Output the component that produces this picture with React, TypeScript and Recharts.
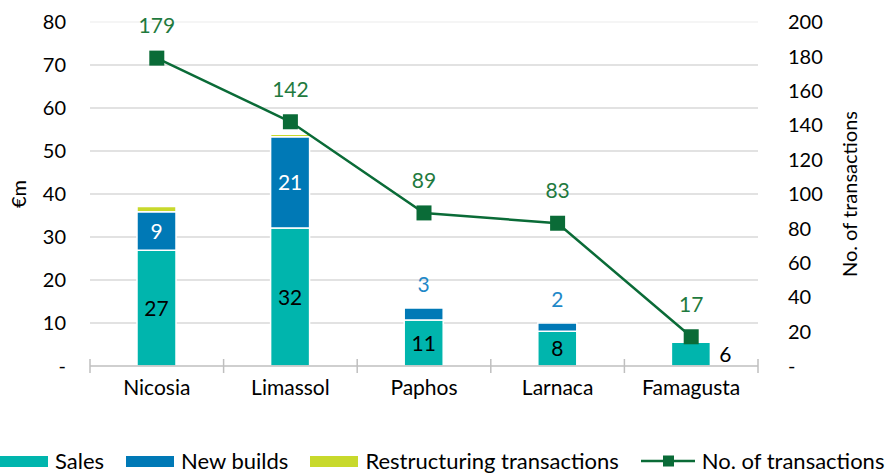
import React from 'react';
import {
  ComposedChart,
  Bar,
  Line,
  XAxis,
  YAxis,
  CartesianGrid,
  LabelList,
  Label,
} from 'recharts';

const districts = ['Nicosia', 'Limassol', 'Paphos', 'Larnaca', 'Famagusta'];
const sales = [26.9, 32.1, 10.7, 8.1, 5.5];
const newBuilds = [9.0, 21.2, 2.8, 1.9, 0];
const restructuring = [1.2, 0.6, 0, 0, 0];
const transactions = [179, 142, 89, 83, 17];

const leftTicks = [0, 10, 20, 30, 40, 50, 60, 70, 80];
const rightTicks = [0, 20, 40, 60, 80, 100, 120, 140, 160, 180, 200];

const W = 887;
const H = 473;
const LEFT_W = 90;
const RIGHT_W = 129;
const TOP = 22;
const PLOT_BOTTOM = 366;
const BAND = (W - LEFT_W - RIGHT_W) / districts.length;

const C_SALES = '#00b5ad';
const C_NEW = '#0079b6';
const C_RESTR = '#c8d92c';
const C_LINE = '#0a6b37';
const C_LINE_TXT = '#1f7a3e';
const C_NEW_TXT = '#1e88c8';
const FONT = 'Lato, "Open Sans", sans-serif';

const data = districts.map((d, i) => ({
  district: d,
  sales: sales[i],
  newBuilds: newBuilds[i],
  restructuring: restructuring[i],
  transactions: transactions[i],
}));

const fmt = (v: number) => (v === 0 ? '-' : String(v));

// inner gridlines (0 is the axis line); the top one at 80 is drawn fainter
const gridTicks = leftTicks.filter((t) => t > 0 && t < 80);
const topTicks = leftTicks.filter((t) => t === 80);
const gridGen = (ticks: number[]) => (props: any) => {
  const scale = props?.yAxis?.scale;
  if (typeof scale === 'function') return ticks.map((t) => scale(t));
  return ticks.map((t) => PLOT_BOTTOM - (t / 80) * (PLOT_BOTTOM - TOP));
};

function CategoryTick(props: any) {
  const { x, payload, index } = props;
  return (
    <g>
      <line x1={x - BAND / 2} x2={x - BAND / 2} y1={PLOT_BOTTOM - 7} y2={PLOT_BOTTOM + 7} stroke="#bfbfbf" strokeWidth={1.5} />
      {index === districts.length - 1 && (
        <line x1={x + BAND / 2} x2={x + BAND / 2} y1={PLOT_BOTTOM - 7} y2={PLOT_BOTTOM + 7} stroke="#bfbfbf" strokeWidth={1.5} />
      )}
      <text x={x} y={PLOT_BOTTOM + 29} textAnchor="middle" fontSize={21} fill="#000" fontFamily={FONT}>
        {payload.value}
      </text>
    </g>
  );
}

function SalesLabel(props: any) {
  const { x, y, width, height, value } = props;
  const v = Math.round(value);
  if (height < 30) {
    return (
      <text x={x + width + 15} y={y + height / 2} dy="0.36em" textAnchor="middle" fontSize={21} fill="#000" fontFamily={FONT}>
        {v}
      </text>
    );
  }
  return (
    <text x={x + width / 2} y={y + height / 2} dy="0.36em" textAnchor="middle" fontSize={21} fill="#000" fontFamily={FONT}>
      {v}
    </text>
  );
}

function NewBuildsLabel(props: any) {
  const { x, y, width, height, value } = props;
  if (!value) return null;
  const v = Math.round(value);
  if (height < 30) {
    return (
      <text x={x + width / 2} y={y - 24} dy="0.36em" textAnchor="middle" fontSize={21} fill={C_NEW_TXT} fontFamily={FONT}>
        {v}
      </text>
    );
  }
  return (
    <text x={x + width / 2} y={y + height / 2} dy="0.36em" textAnchor="middle" fontSize={21} fill="#fff" fontFamily={FONT}>
      {v}
    </text>
  );
}

function SquareDot(props: any) {
  const { cx, cy, index } = props;
  return <rect key={`dot-${index}`} x={cx - 7.5} y={cy - 7.5} width={15} height={15} fill={C_LINE} />;
}

const legendItems = [
  { name: 'Sales', color: C_SALES, type: 'box' },
  { name: 'New builds', color: C_NEW, type: 'box' },
  { name: 'Restructuring transactions', color: C_RESTR, type: 'box' },
  { name: 'No. of transactions', color: C_LINE, type: 'line' },
];

export default function App() {
  return (
    <div style={{ position: 'absolute', left: 0, top: 0, width: W, height: H, overflow: 'hidden', fontFamily: FONT, background: '#fff' }}>
      <ComposedChart
        width={W}
        height={H}
        data={data}
        margin={{ top: TOP, right: 0, left: 0, bottom: H - PLOT_BOTTOM - 30 }}
        barSize={39}
      >
        <CartesianGrid
          yAxisId="left"
          vertical={false}
          stroke="#d9d9d9"
          strokeWidth={1.5}
          horizontalCoordinatesGenerator={gridGen(gridTicks)}
        />
        <CartesianGrid
          yAxisId="left"
          vertical={false}
          stroke="#f2f2f2"
          strokeWidth={1.5}
          horizontalCoordinatesGenerator={gridGen(topTicks)}
        />
        <XAxis
          dataKey="district"
          height={30}
          interval={0}
          tickLine={false}
          axisLine={{ stroke: '#bfbfbf', strokeWidth: 1.5 }}
          tick={<CategoryTick />}
        />
        <YAxis
          yAxisId="left"
          width={LEFT_W}
          domain={[0, 80]}
          ticks={leftTicks}
          tickFormatter={fmt}
          axisLine={false}
          tickLine={false}
          tickMargin={18}
          tick={{ fontSize: 20, fill: '#000', fontFamily: FONT }}
        >
          <Label value="€m" angle={-90} position="insideLeft" offset={19} style={{ textAnchor: 'middle', fontSize: 20, fill: '#000', fontFamily: FONT }} />
        </YAxis>
        <YAxis
          yAxisId="right"
          orientation="right"
          width={RIGHT_W}
          domain={[0, 200]}
          ticks={rightTicks}
          tickFormatter={fmt}
          axisLine={false}
          tickLine={false}
          tickMargin={24}
          tick={{ fontSize: 20, fill: '#000', fontFamily: FONT, textAnchor: 'start' }}
        >
          <Label value="No. of transactions" angle={-90} position="insideRight" offset={37} style={{ textAnchor: 'middle', fontSize: 20, fill: '#000', fontFamily: FONT }} />
        </YAxis>
        <Bar yAxisId="left" dataKey="sales" stackId="a" fill={C_SALES} stroke="#fff" strokeWidth={1.5} isAnimationActive={false}>
          <LabelList dataKey="sales" content={<SalesLabel />} />
        </Bar>
        <Bar yAxisId="left" dataKey="newBuilds" stackId="a" fill={C_NEW} stroke="#fff" strokeWidth={1.5} isAnimationActive={false}>
          <LabelList dataKey="newBuilds" content={<NewBuildsLabel />} />
        </Bar>
        <Bar yAxisId="left" dataKey="restructuring" stackId="a" fill={C_RESTR} stroke="#fff" strokeWidth={1.5} isAnimationActive={false} />
        <Line
          yAxisId="right"
          type="linear"
          dataKey="transactions"
          stroke={C_LINE}
          strokeWidth={2.5}
          dot={<SquareDot />}
          activeDot={false}
          isAnimationActive={false}
        >
          <LabelList dataKey="transactions" position="top" offset={25} fontSize={21} fill={C_LINE_TXT} fontFamily={FONT} />
        </Line>
      </ComposedChart>
      <div style={{ position: 'absolute', left: 0, top: 450, display: 'flex', alignItems: 'center', fontSize: 22, lineHeight: '22px', color: '#000', whiteSpace: 'nowrap' }}>
        {legendItems.map((item) => (
          <div key={item.name} style={{ display: 'flex', alignItems: 'center', marginRight: item.type === 'box' ? 22 : 0 }}>
            {item.type === 'box' ? (
              <span style={{ display: 'inline-block', width: 48, height: 11, background: item.color, marginRight: 7 }} />
            ) : (
              <svg width={58} height={16} style={{ marginRight: 3 }}>
                <line x1={0} x2={54} y1={8} y2={8} stroke={item.color} strokeWidth={2.5} />
                <rect x={22} y={2.5} width={11} height={11} fill={item.color} />
              </svg>
            )}
            <span>{item.name}</span>
          </div>
        ))}
      </div>
    </div>
  );
}
